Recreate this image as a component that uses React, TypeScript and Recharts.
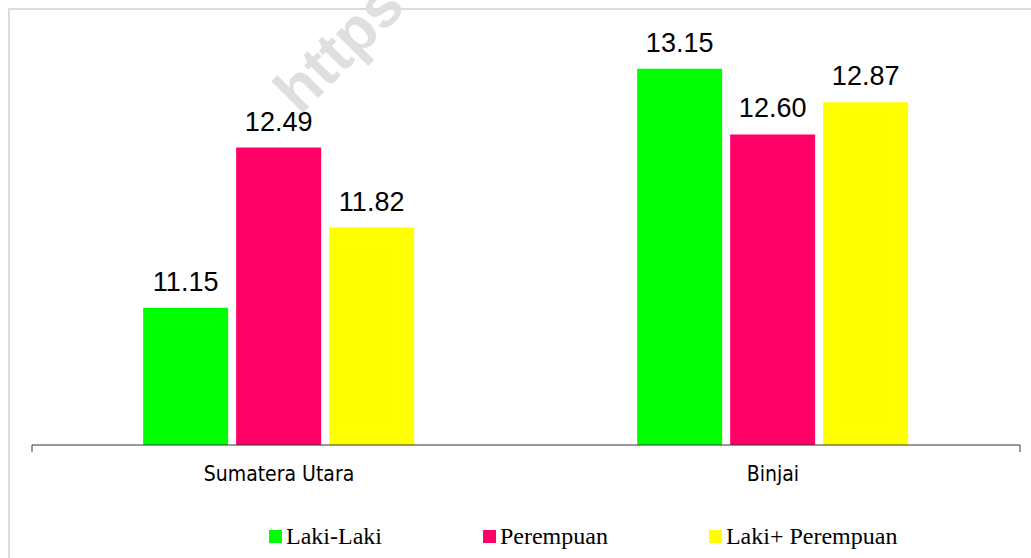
import { Bar, BarChart, LabelList, XAxis, YAxis } from "recharts";

const wilayah = ["Sumatera Utara", "Binjai"];
const lakiLaki = [11.15, 13.15];
const perempuan = [12.49, 12.6];
const gabungan = [11.82, 12.87];

const seri = [
  { key: "laki", nama: "Laki-Laki", warna: "#00FF00" },
  { key: "perempuan", nama: "Perempuan", warna: "#FF0066" },
  { key: "gabungan", nama: "Laki+ Perempuan", warna: "#FFFF00" },
];

const data = wilayah.map((w, i) => ({
  wilayah: w,
  laki: lakiLaki[i],
  perempuan: perempuan[i],
  gabungan: gabungan[i],
}));

export default function App() {
  return (
    <div style={{ position: "fixed", left: 0, top: 0, width: 1031, height: 558, background: "#fff", overflow: "hidden" }}>
      {/* bingkai abu-abu */}
      <div
        style={{
          position: "absolute",
          left: 8,
          top: 8,
          width: 1060,
          height: 600,
          border: "2px solid #dcdcdc",
        }}
      />
      {/* watermark */}
      <svg width={1031} height={558} style={{ position: "absolute", left: 0, top: 0 }}>
        <text
          x={300}
          y={116}
          transform="rotate(-45 300 116)"
          fontFamily="Liberation Sans, Arial, sans-serif"
          fontWeight="bold"
          fontSize={62}
          fill="#dfdfdf"
        >
          https
        </text>
      </svg>
      <div style={{ position: "absolute", left: 0, top: 0 }}>
        <BarChart
          width={1031}
          height={558}
          data={data}
          margin={{ top: 15, right: 11, bottom: 73, left: 32 }}
          barCategoryGap="22.5%"
          barGap={8}
        >
          {/* sumbu batas kategori: garis sumbu + tick di tepi kategori */}
          <XAxis
            xAxisId="batas"
            type="number"
            domain={[0, 2]}
            ticks={[0, 1, 2]}
            tickFormatter={() => ""}
            axisLine={{ stroke: "#333" }}
            tickSize={7}
            tickLine={{ stroke: "#333" }}
            height={1}
          />
          <XAxis
            xAxisId="kat"
            dataKey="wilayah"
            axisLine={false}
            tickLine={false}
            tickSize={6}
            tickMargin={14}
            height={39}
            tick={{ fill: "#000", fontSize: 21, fontFamily: "DejaVu Sans Condensed, DejaVu Sans, sans-serif" }}
          />
          <YAxis hide domain={[10, 13.6]} allowDataOverflow />
          {seri.map((s) => (
            <Bar key={s.key} xAxisId="kat" dataKey={s.key} name={s.nama} fill={s.warna} isAnimationActive={false}>
              <LabelList
                dataKey={s.key}
                position="top"
                offset={17}
                formatter={(v: number) => v.toFixed(2)}
                style={{ fill: "#000", fontSize: 27, fontFamily: "Liberation Sans, Arial, sans-serif" }}
              />
            </Bar>
          ))}
        </BarChart>
      </div>
      {/* legenda */}
      <div
        style={{
          position: "absolute",
          left: 269,
          top: 521,
          display: "flex",
          gap: 101,
          fontFamily: "Liberation Serif, Times New Roman, serif",
          fontSize: 24,
          color: "#000",
          lineHeight: "30px",
        }}
      >
        {seri.map((s) => (
          <div key={s.key} style={{ display: "flex", alignItems: "center", gap: 4 }}>
            <span style={{ width: 13, height: 13, background: s.warna, display: "inline-block" }} />
            <span>{s.nama}</span>
          </div>
        ))}
      </div>
    </div>
  );
}
